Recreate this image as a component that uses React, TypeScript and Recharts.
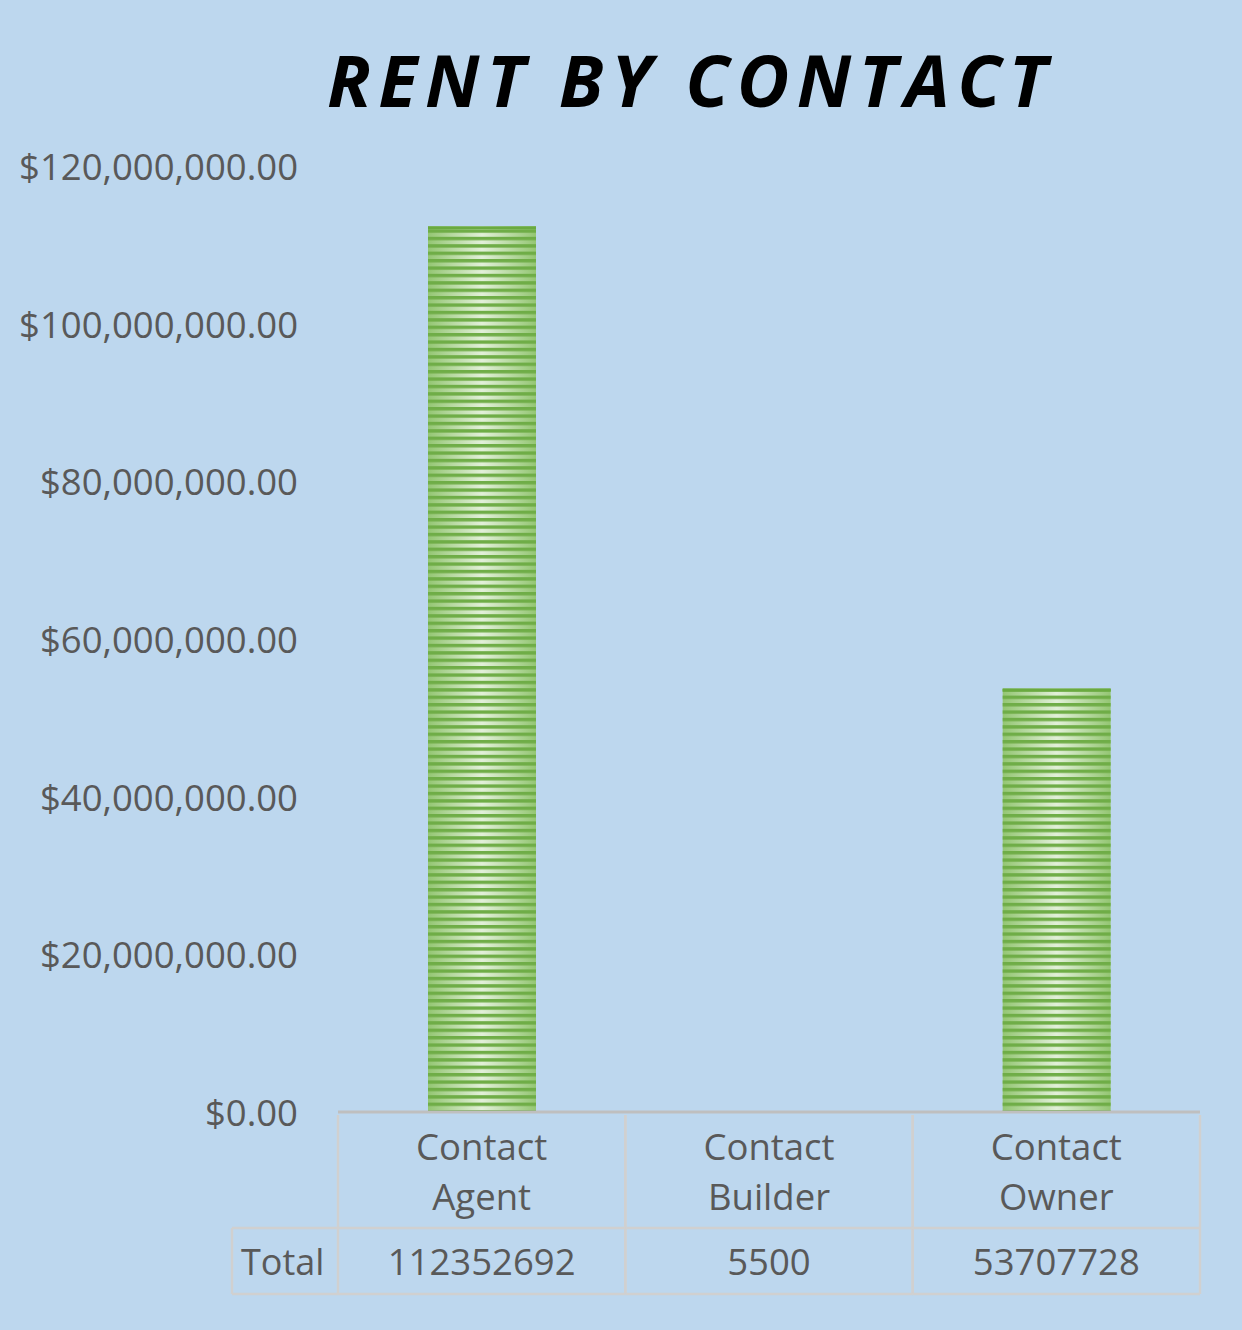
import React from 'react';
import { BarChart, Bar, XAxis, YAxis } from 'recharts';

const categories = ['Contact Agent', 'Contact Builder', 'Contact Owner'];
const rentTotals = [112352692, 5500, 53707728];
const yTicks = [0, 20000000, 40000000, 60000000, 80000000, 100000000, 120000000];
const rowLabel = 'Total';
const chartTitle = 'RENT BY CONTACT';

const data = categories.map((c, i) => ({ name: c, value: rentTotals[i] }));

const W = 1242;
const H = 1330;
const PLOT_LEFT = 338;
const PLOT_RIGHT = 1200;
const BAND = (PLOT_RIGHT - PLOT_LEFT) / categories.length;
const TEXT = '#595959';
const FONT = '"Open Sans", sans-serif';
const GRID = '#D0D0D0';

const fmtMoney = (v: number) =>
  '$' + v.toLocaleString('en-US', { minimumFractionDigits: 2, maximumFractionDigits: 2 });

const YTick = (props: any) => {
  const { x, y, payload } = props;
  return (
    <text x={x} y={y} textAnchor="end" dominantBaseline="central" fill={TEXT} fontSize={36.5} fontFamily={FONT}>
      {fmtMoney(payload.value)}
    </text>
  );
};

const XTick = (props: any) => {
  const { x, y, payload, index } = props;
  const left = x - BAND / 2;
  const right = x + BAND / 2;
  const lines = String(payload.value).split(' ');
  const val = rentTotals[index];
  return (
    <g>
      <line x1={left} x2={left} y1={y + 3} y2={y + 182} stroke={GRID} strokeWidth={2.5} />
      <line x1={right} x2={right} y1={y + 3} y2={y + 182} stroke={GRID} strokeWidth={2.5} />
      <line x1={left} x2={right} y1={y + 116} y2={y + 116} stroke={GRID} strokeWidth={2.5} />
      <line x1={left} x2={right} y1={y + 182} y2={y + 182} stroke={GRID} strokeWidth={2.5} />
      {index === 0 && (
        <g>
          <line x1={232} x2={left} y1={y + 116} y2={y + 116} stroke={GRID} strokeWidth={2.5} />
          <line x1={232} x2={left} y1={y + 182} y2={y + 182} stroke={GRID} strokeWidth={2.5} />
          <line x1={232} x2={232} y1={y + 116} y2={y + 182} stroke={GRID} strokeWidth={2.5} />
          <text x={241} y={y + 149} dominantBaseline="central" fill={TEXT} fontSize={36} fontFamily={FONT}>
            {rowLabel}
          </text>
        </g>
      )}
      {lines.map((ln, i) => (
        <text key={i} x={x} y={y + 34 + i * 50} textAnchor="middle" dominantBaseline="central" fill={TEXT} fontSize={36.5} fontFamily={FONT}>
          {ln}
        </text>
      ))}
      <text x={x} y={y + 149} textAnchor="middle" dominantBaseline="central" fill={TEXT} fontSize={36.5} fontFamily={FONT}>
        {String(val)}
      </text>
    </g>
  );
};

const StripedBar = (props: any) => {
  const { x, y, width, height } = props;
  if (!height || height < 2) return null;
  return (
    <g>
      <rect x={x} y={y} width={width} height={height} fill="url(#barGrad)" />
      <rect x={x} y={y} width={width} height={height} fill="url(#barStripes)" />
      <rect x={x} y={y} width={width} height={3} fill="#6AAA40" />
    </g>
  );
};

export default function App() {
  return (
    <div style={{ position: 'absolute', left: 0, top: 0, width: W, height: H, background: '#BDD7EE', overflow: 'hidden' }}>
      <svg width={0} height={0} style={{ position: 'absolute' }}>
        <defs>
          <linearGradient id="barGrad" x1="0" y1="0" x2="1" y2="0">
            <stop offset="0%" stopColor="#94C673" />
            <stop offset="50%" stopColor="#E2F0D9" />
            <stop offset="100%" stopColor="#94C673" />
          </linearGradient>
          <pattern id="barStripes" patternUnits="userSpaceOnUse" x={0} y={0} width={12} height={7.4}>
            <rect x={0} y={0} width={12} height={3.4} fill="#6FAD47" />
          </pattern>
        </defs>
      </svg>
      <svg width={W} height={140} style={{ position: 'absolute', left: 0, top: 0 }}>
        <text
          x={687}
          y={107}
          textAnchor="middle"
          fontFamily={FONT}
          fontWeight={700}
          fontStyle="italic"
          fontSize={72}
          fill="#000000"
          textLength={720}
          lengthAdjust="spacing"
        >
          {chartTitle}
        </text>
      </svg>
      <div style={{ position: 'absolute', left: 0, top: 0 }}>
        <BarChart width={W} height={H} data={data} margin={{ top: 166, right: 42, bottom: 18, left: 0 }}>
          <YAxis
            width={338}
            domain={[0, 120000000]}
            ticks={yTicks}
            axisLine={false}
            tickLine={false}
            tickSize={0}
            tickMargin={40}
            tick={<YTick />}
            interval={0}
          />
          <XAxis
            dataKey="name"
            height={200}
            axisLine={{ stroke: '#BFBFBF', strokeWidth: 3 }}
            tickLine={false}
            tickSize={0}
            tickMargin={0}
            tick={<XTick />}
            interval={0}
          />
          <Bar dataKey="value" barSize={108} shape={<StripedBar />} isAnimationActive={false} />
        </BarChart>
      </div>
    </div>
  );
}
